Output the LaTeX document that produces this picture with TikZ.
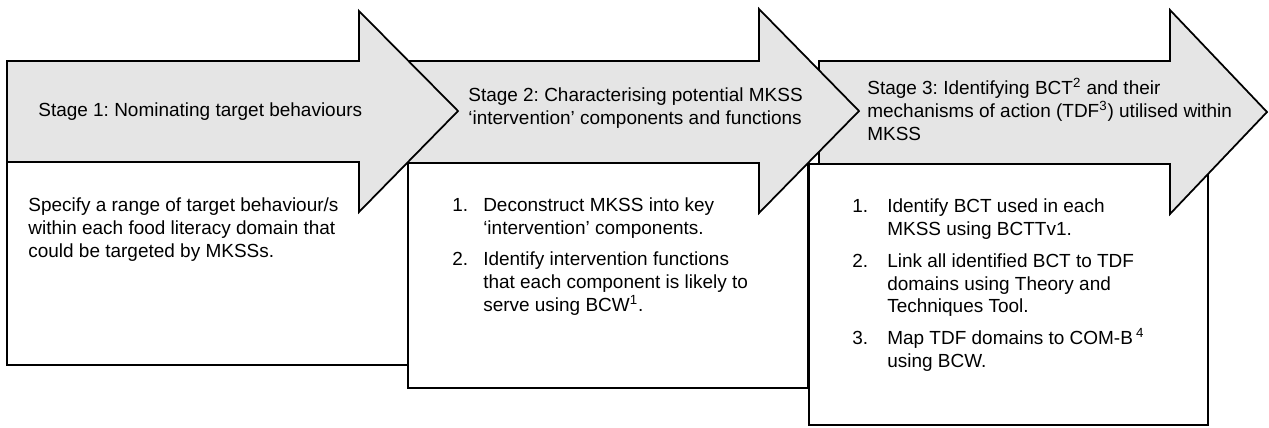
\documentclass[tikz,border=0pt]{standalone}
\usepackage{fontspec}
\setmainfont{Liberation Sans}
\usepackage{tikz}
\definecolor{arrowgrey}{HTML}{E5E5E5}
\tikzset{
  stagearrow/.style={draw=black,fill=arrowgrey,line width=1pt,line join=miter},
  stagebox/.style={draw=black,fill=white,line width=1pt},
  stagetext/.style={anchor=west,align=left,inner sep=0pt,font=\fontsize{10.8}{13}\selectfont\frenchspacing}
}

\begin{document}
\begin{tikzpicture}[x=0.02cm,y=-0.02cm]
  \useasboundingbox (0,0) rectangle (1269,427);
  % stage 3 (drawn first, lies underneath)
  \draw[stagebox] (809,164) rectangle (1208,425);
  \draw[stagearrow] (819,61) -- (1170,61) -- (1170,10) -- (1267,112) -- (1170,214) -- (1170,164) -- (819,164) -- cycle;
  % stage 2
  \draw[stagebox] (408,163) rectangle (808,388);
  \draw[stagearrow] (407,61) -- (759,61) -- (759,9) -- (859,111) -- (759,213) -- (759,163) -- (407,163) -- cycle;
  % stage 1
  \draw[stagebox] (7,162) rectangle (408,365);
  \draw[stagearrow] (7,61) -- (359,61) -- (359,11) -- (458,111) -- (359,212) -- (359,162) -- (7,162) -- cycle;
  % headings
  \node[stagetext] (s1) at (38,111.5) {Stage 1: Nominating target behaviours};
  \node[stagetext] (s2) at (468,108.5) {Stage 2: Characterising potential MKSS\\‘intervention’ components and functions};
  \node[stagetext] (s3) at (867,109.5) {Stage 3: Identifying BCT\textsuperscript{2} and their\\mechanisms of action (TDF\textsuperscript{3}) utilised within\\MKSS};
  % box contents
  \node[stagetext] (t1) at (28,229.5) {Specify a range of target behaviour/s\\within each food literacy domain that\\could be targeted by MKSSs.};
  \node[stagetext] (t2) at (452,257) {\begin{tabular}{@{}p{17.6pt}@{}l@{}}
    1. & Deconstruct MKSS into key\\
       & ‘intervention’ components.\\[5pt]
    2. & Identify intervention functions\\
       & that each component is likely to\\
       & serve using BCW\textsuperscript{1}.
  \end{tabular}};
  \node[stagetext] (t3) at (852,285.5) {\begin{tabular}{@{}p{19.9pt}@{}l@{}}
    1. & Identify BCT used in each\\
       & MKSS using BCTTv1.\\[5pt]
    2. & Link all identified BCT to TDF\\
       & domains using Theory and\\
       & Techniques Tool.\\[5pt]
    3. & Map TDF domains to COM-B\,\textsuperscript{4}\\
       & using BCW.
  \end{tabular}};
\end{tikzpicture}
\end{document}
